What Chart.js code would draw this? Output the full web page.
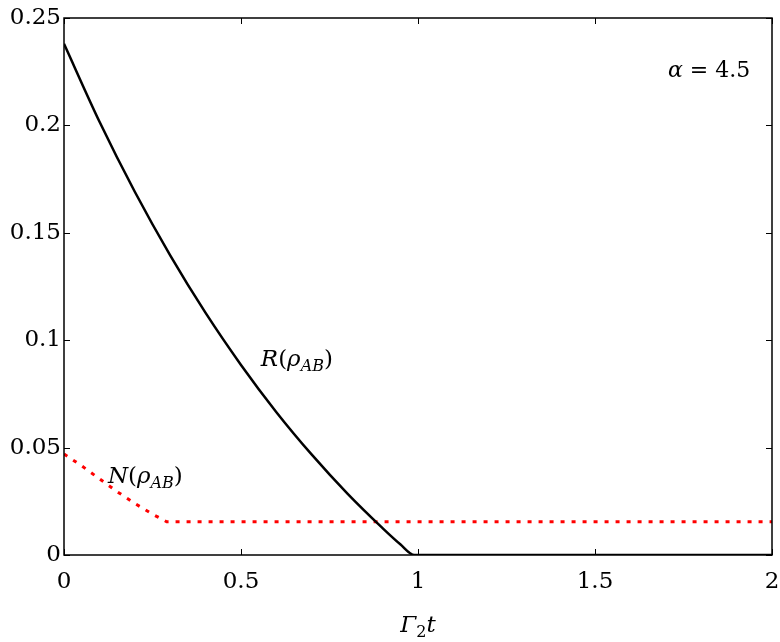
<!DOCTYPE html>
<html>
<head>
<meta charset="utf-8">
<script src="https://cdn.jsdelivr.net/npm/chart.js@4"></script>
<style>
html, body { margin: 0; padding: 0; background: #fff; }
</style>
</head>
<body>
<canvas id="chart" width="780" height="642"></canvas>
<script>
// values
const rTimes = [0, 0.1, 0.2, 0.3, 0.4, 0.5, 0.6, 0.7, 0.8, 0.9, 0.95, 0.99, 1.5, 2]
const rValues = [0.238, 0.2018, 0.1691, 0.1395, 0.1127, 0.0885, 0.0665, 0.0467, 0.0287, 0.0125, 0.005, 0, 0, 0]

const nTimes = [0, 0.05, 0.1, 0.15, 0.2, 0.25, 0.29, 2]
const nValues = [0.047, 0.0415, 0.0355, 0.0295, 0.024, 0.019, 0.0155, 0.0155]

const xTicks = [0, 0.5, 1, 1.5, 2]
const xTickLabels = ['0', '0.5', '1', '1.5', '2']
const yTicks = [0, 0.05, 0.1, 0.15, 0.2, 0.25]
const yTickLabels = ['0', '0.05', '0.1', '0.15', '0.2', '0.25']

const FONT = 'DejaVu Serif'

// draws a small math-ish label: parts are [text, style]
// style: 'i' italic, 'r' roman, 's' italic subscript, 'sr' roman subscript
function drawMath(ctx, parts, x, y, size, align) {
    const fontFor = st => {
        const sub = st === 's' || st === 'sr'
        const it = st === 'i' || st === 's'
        return (it ? 'italic ' : '') + Math.round(sub ? size * 0.7 : size) + 'px "' + FONT + '"'
    }
    let total = 0
    const widths = parts.map(([t, st]) => {
        ctx.font = fontFor(st)
        const w = ctx.measureText(t).width
        total += w
        return w
    })
    let cx = align === 'center' ? x - total / 2 : x
    ctx.save()
    ctx.fillStyle = '#000'
    ctx.textAlign = 'left'
    ctx.textBaseline = 'middle'
    parts.forEach(([t, st], i) => {
        ctx.font = fontFor(st)
        const sub = st === 's' || st === 'sr'
        ctx.fillText(t, cx, sub ? y + size * 0.3 : y)
        cx += widths[i]
    })
    ctx.restore()
}

const framePlugin = {
    id: 'frame',
    afterDatasetsDraw(chart) {
        const ctx = chart.ctx
        const a = chart.chartArea
        const xs = chart.scales.x
        const ys = chart.scales.y
        ctx.save()
        ctx.strokeStyle = '#000'
        ctx.lineWidth = 1
        const tl = 6
        xTicks.forEach(v => {
            const px = Math.round(xs.getPixelForValue(v)) + 0.5
            ctx.beginPath()
            ctx.moveTo(px, a.bottom); ctx.lineTo(px, a.bottom - tl)
            ctx.moveTo(px, a.top); ctx.lineTo(px, a.top + tl)
            ctx.stroke()
        })
        yTicks.forEach(v => {
            const py = Math.round(ys.getPixelForValue(v)) + 0.5
            ctx.beginPath()
            ctx.moveTo(a.left, py); ctx.lineTo(a.left + tl, py)
            ctx.moveTo(a.right, py); ctx.lineTo(a.right - tl, py)
            ctx.stroke()
        })
        ctx.lineWidth = 1.5
        ctx.strokeRect(a.left, a.top, a.right - a.left, a.bottom - a.top)
        ctx.restore()

        drawMath(ctx, [['α', 'i'], [' = 4.5', 'r']],
            xs.getPixelForValue(1.706), ys.getPixelForValue(0.2253), 22, 'left')
        drawMath(ctx, [['R', 'i'], ['(', 'r'], ['ρ', 'i'], ['AB', 's'], [')', 'r']],
            xs.getPixelForValue(0.556), ys.getPixelForValue(0.091), 23, 'left')
        drawMath(ctx, [['N', 'i'], ['(', 'r'], ['ρ', 'i'], ['AB', 's'], [')', 'r']],
            xs.getPixelForValue(0.124), ys.getPixelForValue(0.0364), 23, 'left')
        drawMath(ctx, [['Γ', 'i'], ['2', 'sr'], ['t', 'i']],
            (a.left + a.right) / 2, 626, 23, 'center')
    }
}

const ctx = document.getElementById('chart')

new Chart(ctx, {
    type: 'line',
    data: {
        datasets: [{
            label: 'R',
            data: rTimes.map((t, i) => ({ x: t, y: rValues[i] })),
            borderColor: '#000',
            borderWidth: 2.5,
            pointRadius: 0,
            cubicInterpolationMode: 'monotone',
            fill: false
        }, {
            label: 'N',
            data: nTimes.map((t, i) => ({ x: t, y: nValues[i] })),
            borderColor: '#ff0000',
            borderWidth: 3,
            borderDash: [4, 7],
            pointRadius: 0,
            tension: 0,
            fill: false
        }]
    },
    options: {
        responsive: false,
        animation: false,
        devicePixelRatio: 1,
        layout: { padding: { top: 18, right: 8, left: 0, bottom: 0 } },
        plugins: {
            legend: { display: false },
            tooltip: { enabled: false }
        },
        scales: {
            x: {
                type: 'linear',
                min: 0,
                max: 2,
                grid: { display: false, drawTicks: false },
                border: { display: false },
                afterBuildTicks: s => { s.ticks = xTicks.map(v => ({ value: v })) },
                afterFit: s => {
                    s.height = 87
                    s.paddingLeft = 0
                    s.paddingRight = 0
                },
                ticks: {
                    color: '#000',
                    padding: 13,
                    maxRotation: 0,
                    font: { family: FONT, size: 23 },
                    callback: (v, i) => xTickLabels[i]
                }
            },
            y: {
                min: 0,
                max: 0.25,
                grid: { display: false, drawTicks: false },
                border: { display: false },
                afterBuildTicks: s => { s.ticks = yTicks.map(v => ({ value: v })) },
                afterFit: s => {
                    s.width = 64
                    s.paddingTop = 0
                    s.paddingBottom = 0
                },
                ticks: {
                    color: '#000',
                    padding: 3,
                    font: { family: FONT, size: 23 },
                    callback: (v, i) => yTickLabels[i]
                }
            }
        }
    },
    plugins: [framePlugin]
})
</script>
</body>
</html>
